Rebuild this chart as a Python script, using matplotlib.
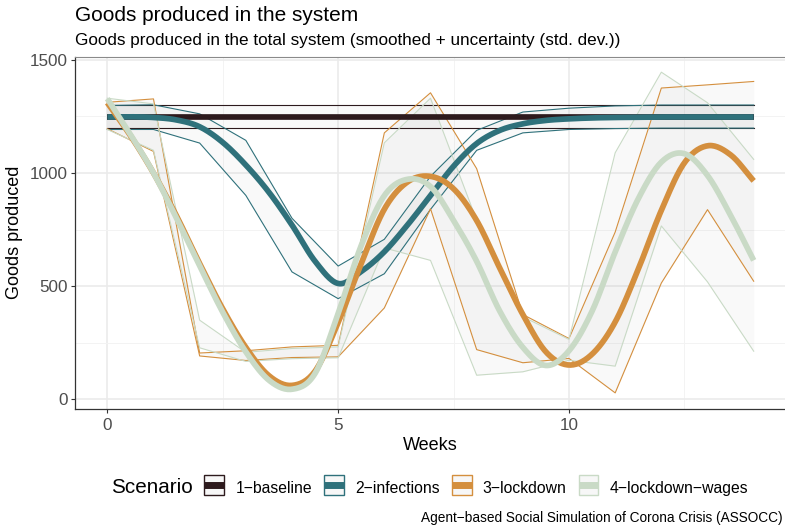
import matplotlib.pyplot as plt
import numpy as np
from matplotlib.patches import Patch, Rectangle
from matplotlib.lines import Line2D
from matplotlib.legend_handler import HandlerPatch

plt.rcParams['font.family'] = ['Liberation Sans', 'DejaVu Sans']

# ---------------------------------------------------------------
# weekly mean +/- sd bounds per scenario
# ---------------------------------------------------------------
weeks = [0, 1, 2, 3, 4, 5, 6, 7, 8, 9, 10, 11, 12, 13, 14]

scenarios = ["1\u2212baseline", "2\u2212infections", "3\u2212lockdown", "4\u2212lockdown\u2212wages"]
colors = ["#2d1a1d", "#2f717b", "#d48f3e", "#c9dac6"]

baseline_hi = [1300, 1300, 1300, 1300, 1300, 1300, 1300, 1300, 1300, 1300, 1300, 1300, 1300, 1300, 1300]
baseline_lo = [1198, 1198, 1198, 1198, 1198, 1198, 1198, 1198, 1198, 1198, 1198, 1198, 1198, 1198, 1198]

infections_hi = [1298, 1301, 1261, 1144, 800, 589, 707, 985, 1188, 1269, 1286, 1296, 1300, 1300, 1300]
infections_lo = [1192, 1192, 1132, 901, 563, 445, 555, 839, 1100, 1177, 1192, 1196, 1198, 1198, 1198]

lockdown_hi = [1312, 1327, 205, 215, 232, 239, 1177, 1354, 1019, 375, 269, 739, 1375, 1389, 1404]
lockdown_lo = [1195, 1095, 192, 172, 185, 188, 404, 842, 220, 162, 181, 29, 514, 838, 522]

wages_hi = [1330, 1305, 350, 208, 225, 232, 1133, 1330, 791, 365, 265, 1089, 1445, 1310, 1060]
wages_lo = [1192, 1100, 228, 168, 180, 184, 669, 614, 107, 122, 173, 147, 766, 519, 213]

# smoothed trend, sampled every half week
smooth_weeks = [0, 0.5, 1, 1.5, 2, 2.5, 3, 3.5, 4, 4.5, 5, 5.5, 6, 6.5, 7,
                7.5, 8, 8.5, 9, 9.5, 10, 10.5, 11, 11.5, 12, 12.5, 13, 13.5, 14]
baseline_smooth = [1249, 1249, 1249, 1249, 1249, 1249, 1249, 1249, 1249, 1249, 1249, 1249, 1249, 1249, 1249,
                   1249, 1249, 1249, 1249, 1249, 1249, 1249, 1249, 1249, 1249, 1249, 1249, 1249, 1249]
infections_smooth = [1247, 1248, 1245, 1234, 1204, 1135, 1035, 915, 770, 610, 512, 565, 652, 770, 900,
                     1030, 1130, 1188, 1217, 1232, 1239, 1243, 1245, 1246, 1247, 1247, 1247, 1247, 1247]
lockdown_smooth = [1310, 1165, 1000, 810, 600, 400, 230, 105, 62, 125, 340, 600, 840, 960, 985,
                   930, 790, 580, 375, 210, 152, 200, 342, 575, 835, 1045, 1120, 1080, 965]
wages_smooth = [1328, 1170, 1000, 800, 590, 385, 210, 85, 45, 115, 380, 680, 900, 972, 940,
                790, 610, 390, 230, 150, 215, 390, 651, 886, 1048, 1085, 989, 813, 614]

bounds = [(baseline_hi, baseline_lo), (infections_hi, infections_lo),
          (lockdown_hi, lockdown_lo), (wages_hi, wages_lo)]
smooths = [baseline_smooth, infections_smooth, lockdown_smooth, wages_smooth]


def spline(x, y, n=16):
    # Catmull-Rom curve through the half-week trend values
    x = np.asarray(x, float)
    y = np.asarray(y, float)
    p = np.concatenate([[2 * y[0] - y[1]], y, [2 * y[-1] - y[-2]]])
    t = np.linspace(0, 1, n, endpoint=False)
    xs, ys = [], []
    for i in range(len(x) - 1):
        p0, p1, p2, p3 = p[i:i + 4]
        ys.append(0.5 * (2 * p1 + (p2 - p0) * t + (2 * p0 - 5 * p1 + 4 * p2 - p3) * t ** 2
                         + (3 * p1 - p0 - 3 * p2 + p3) * t ** 3))
        xs.append(x[i] + (x[i + 1] - x[i]) * t)
    xs.append([x[-1]])
    ys.append([y[-1]])
    return np.concatenate(xs), np.concatenate(ys)


def key_box(legend, orig_handle, xdescent, ydescent, width, height, fontsize):
    # square swatch centred on the key line
    return Rectangle((-xdescent, -ydescent / 2), width, height)


W, H = 785, 526
fig = plt.figure(figsize=(W / 100, H / 100), dpi=100)
ax = fig.add_axes([75 / W, 1 - 408.5 / H, 711 / W, 351.5 / H])

# ribbons with their thin outline first, then the thick trends on top
for (hi, lo), c in zip(bounds, colors):
    ax.fill_between(weeks, lo, hi, color="#7f7f7f", alpha=0.045, lw=0)
    ax.plot(weeks, hi, color=c, lw=0.8)
    ax.plot(weeks, lo, color=c, lw=0.8)

for sm, c in zip(smooths, colors):
    xs, ys = spline(smooth_weeks, sm)
    ax.plot(xs, ys, color=c, lw=4.1, solid_capstyle="butt")

ax.set_xlim(-0.7, 14.7)
ax.set_ylim(-40, 1512)
ax.set_xticks([0, 5, 10])
ax.set_xticks([2.5, 7.5, 12.5], minor=True)
ax.set_yticks([0, 500, 1000, 1500])
ax.set_yticks([250, 750, 1250], minor=True)
ax.grid(which="major", color="#ebebeb", lw=1.2)
ax.grid(which="minor", color="#f3f3f3", lw=0.7)
ax.set_axisbelow(True)
ax.tick_params(which="major", length=3, width=0.8, color="#333333",
               labelcolor="#4d4d4d", labelsize=12.3)
ax.tick_params(axis="x", pad=3.5)
ax.tick_params(axis="y", pad=2)
ax.tick_params(which="minor", length=0)
for side in ["left", "bottom"]:
    ax.spines[side].set_color("#333333")
    ax.spines[side].set_linewidth(0.9)
ax.spines["top"].set_color("#8a8a8a")
ax.spines["top"].set_linewidth(0.8)
ax.spines["right"].set_visible(False)

fig.text(75 / W, 1 - 20.7 / H, "Goods produced in the system", fontsize=15, va="baseline")
fig.text(75 / W, 1 - 45 / H,
         "Goods produced in the total system (smoothed + uncertainty (std. dev.))",
         fontsize=12.3, va="baseline")
fig.text(430.5 / W, 1 - 450 / H, "Weeks", fontsize=13, ha="center", va="baseline")
fig.text(15 / W, 1 - 232.7 / H, "Goods produced", fontsize=13, rotation=90,
         ha="center", va="center")

# legend keys: ribbon swatch with the trend line through it
handles = [(Patch(facecolor="#f7f7f7", edgecolor=c, lw=1.0),
            Line2D([], [], color=c, lw=5, solid_capstyle="butt")) for c in colors]
fig.text(111 / W, 1 - 487.5 / H, "Scenario", fontsize=14.9, va="center")
fig.legend(handles, scenarios, loc="center left", bbox_to_anchor=(204.4 / W, 1 - 487.5 / H),
           ncol=4, frameon=False, fontsize=11.3, borderpad=0, borderaxespad=0,
           handlelength=1.27, handleheight=1.6, handletextpad=0.7, columnspacing=0.77,
           handler_map={Patch: HandlerPatch(patch_func=key_box)})

fig.text(783 / W, 1 - 521.7 / H, "Agent\u2212based Social Simulation of Corona Crisis (ASSOCC)",
         fontsize=9.8, ha="right", va="baseline")

fig.savefig("out.png", dpi=100)
